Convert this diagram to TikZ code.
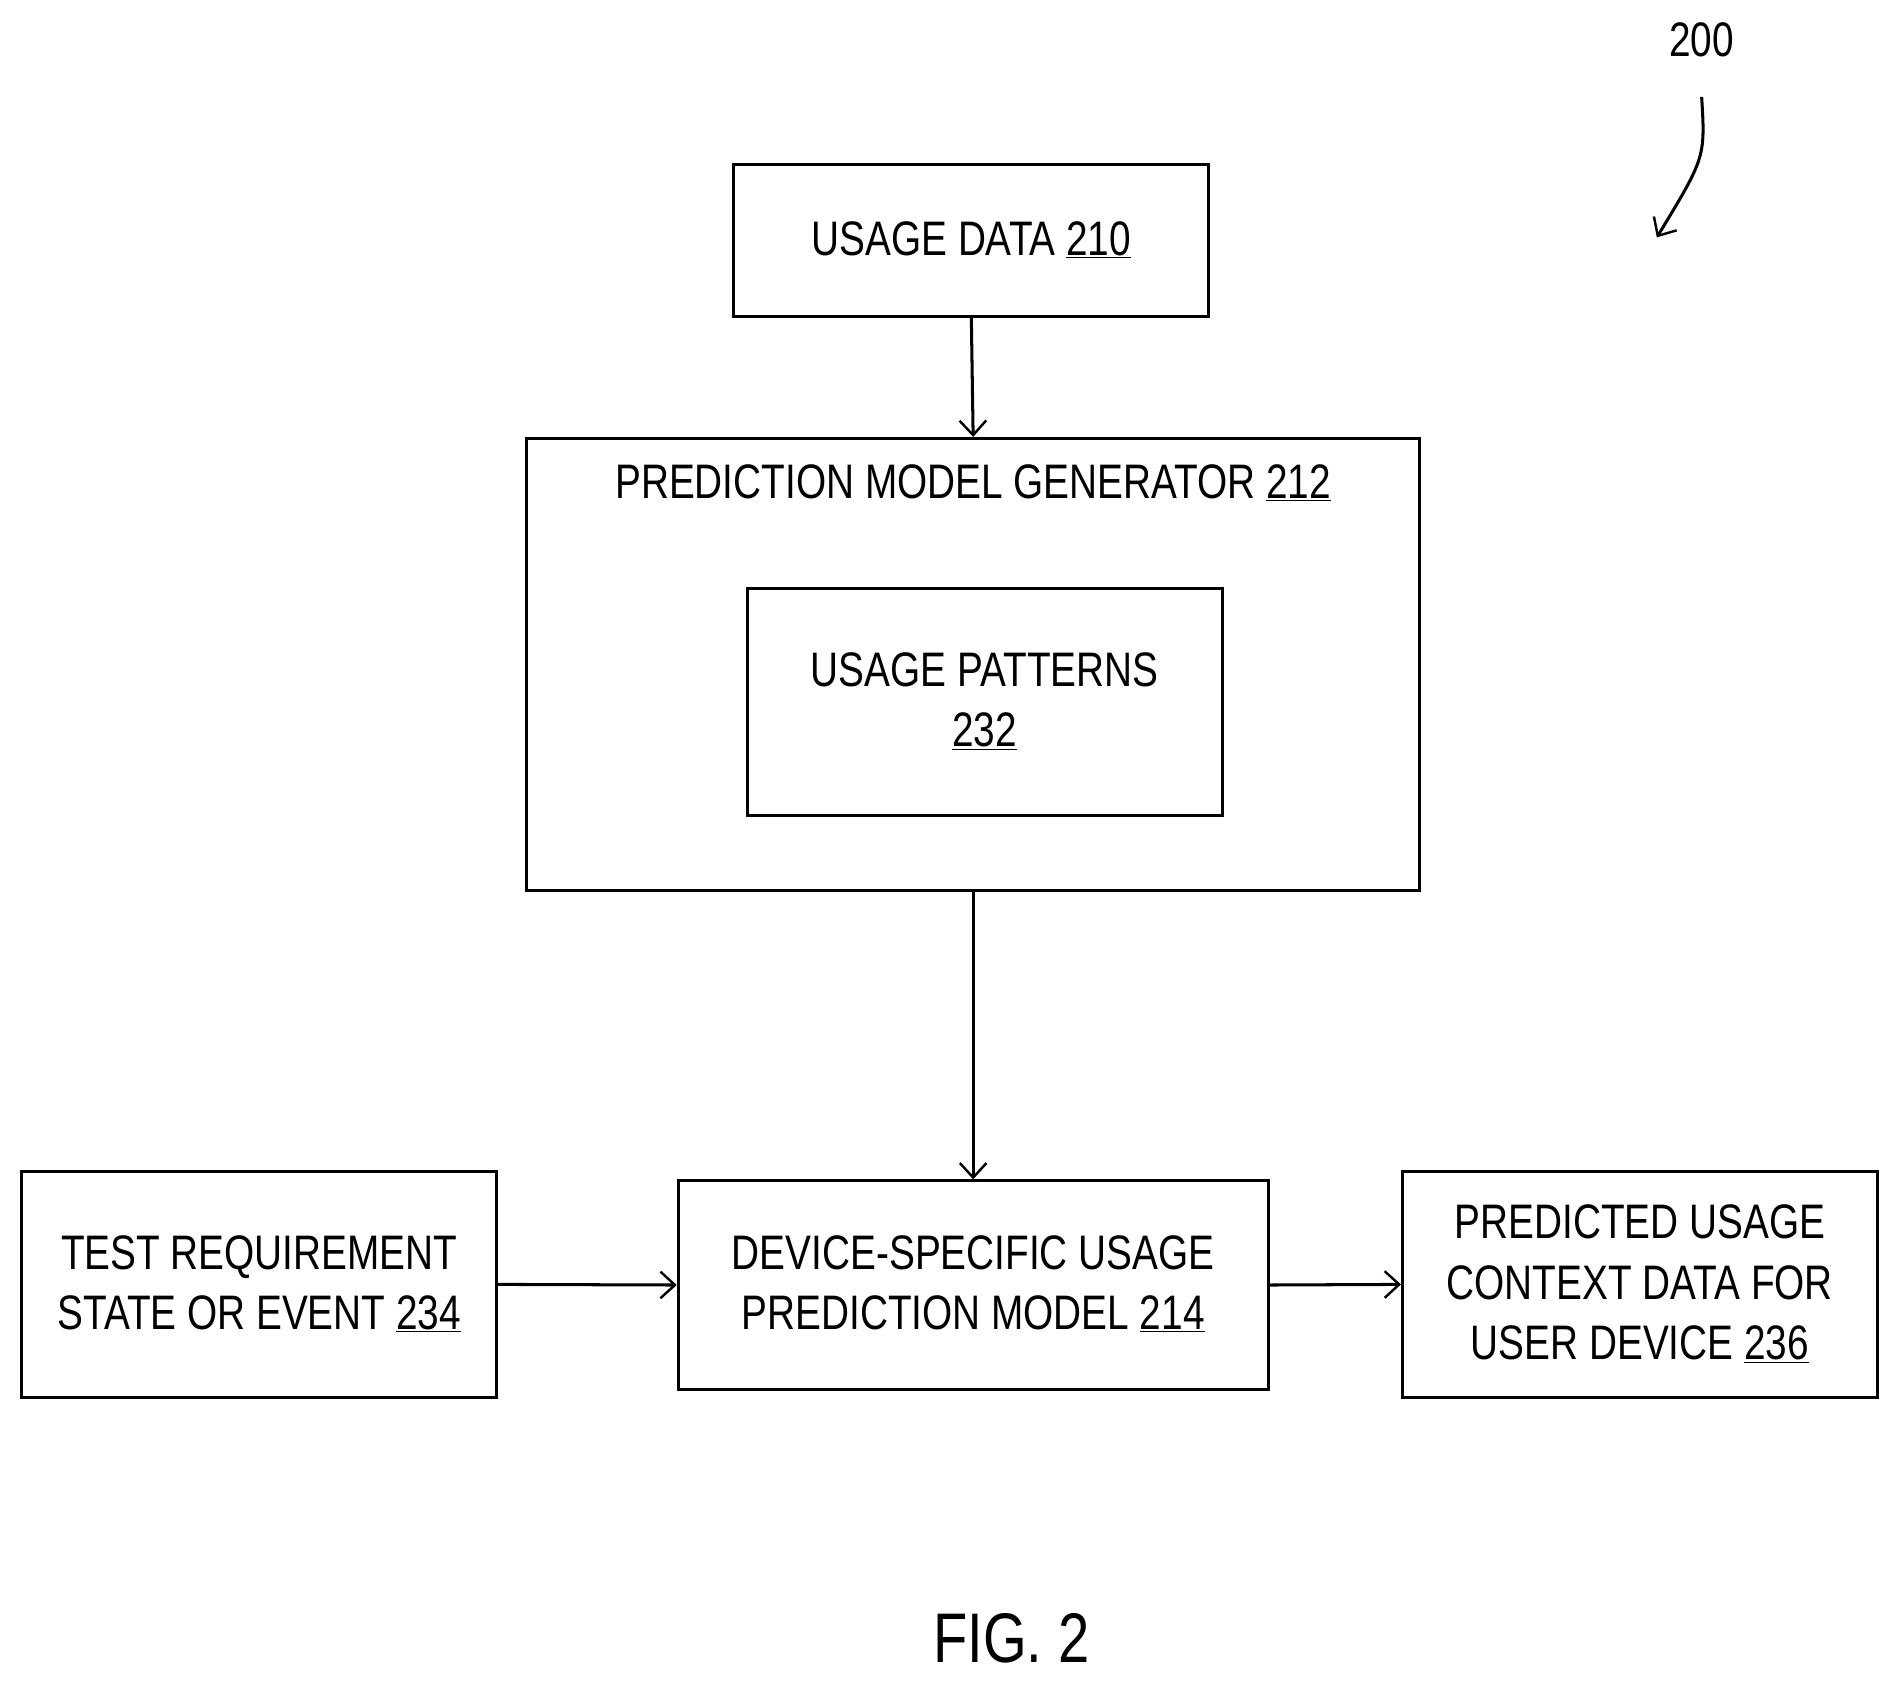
\documentclass[tikz,border=0pt]{standalone}
\usepackage{fontspec}
\setmainfont{Liberation Sans}[FakeStretch=0.8]
\usetikzlibrary{arrows.meta}
\begin{document}
\begin{tikzpicture}[x=1pt,y=-1pt,
  box/.style={draw,line width=2.5pt,inner sep=0pt},
  lbl/.style={align=center,font=\fontsize{40}{50}\selectfont},
  arr/.style={line width=2.5pt,-{Straight Barb[length=12pt,width=22pt,line width=2pt]}}]
\useasboundingbox (0,0) rectangle (1563,1388);
\draw[box] (606,136) rectangle (998,261) coordinate (ud2);
\node[box,minimum width=392pt,minimum height=125pt] (ud) at (802,198.5) {};
\node[lbl] at (802,198) {USAGE DATA \underline{210}};
\node[box,minimum width=737pt,minimum height=373pt] (pmg) at (803.5,548.5) {};
\node[lbl] at (803.5,399) {PREDICTION MODEL GENERATOR \underline{212}};
\node[box,minimum width=392pt,minimum height=187pt] (up) at (813,579.5) {};
\node[lbl] at (813,579) {USAGE PATTERNS\\\underline{232}};
\node[box,minimum width=392pt,minimum height=187pt] (tr) at (214,1060.5) {};
\node[lbl] at (214,1060) {TEST REQUIREMENT\\STATE OR EVENT \underline{234}};
\node[box,minimum width=487pt,minimum height=172pt] (ds) at (803.5,1061) {};
\node[lbl] at (803.5,1060) {DEVICE-SPECIFIC USAGE\\PREDICTION MODEL \underline{214}};
\node[box,minimum width=392pt,minimum height=187pt] (pu) at (1354,1060.5) {};
\node[lbl] at (1354,1060) {PREDICTED USAGE\\CONTEXT DATA FOR\\USER DEVICE \underline{236}};
\draw[arr] (ud.south) -- (pmg.north);
\draw[arr] (pmg.south) -- (ds.north);
\draw[arr] (tr.east) -- (ds.west);
\draw[arr] (ds.east) -- (pu.west);
\node[lbl] (n200) at (1405,33) {200};
\coordinate (c1) at (1405,80);
\coordinate (c2) at (1368,196);
\draw[arr] (c1) .. controls (1408,130) .. (c2);
\node[lbl,font=\fontsize{58}{60}\selectfont] (fig) at (835,1353) {FIG. 2};
\end{tikzpicture}
\end{document}
